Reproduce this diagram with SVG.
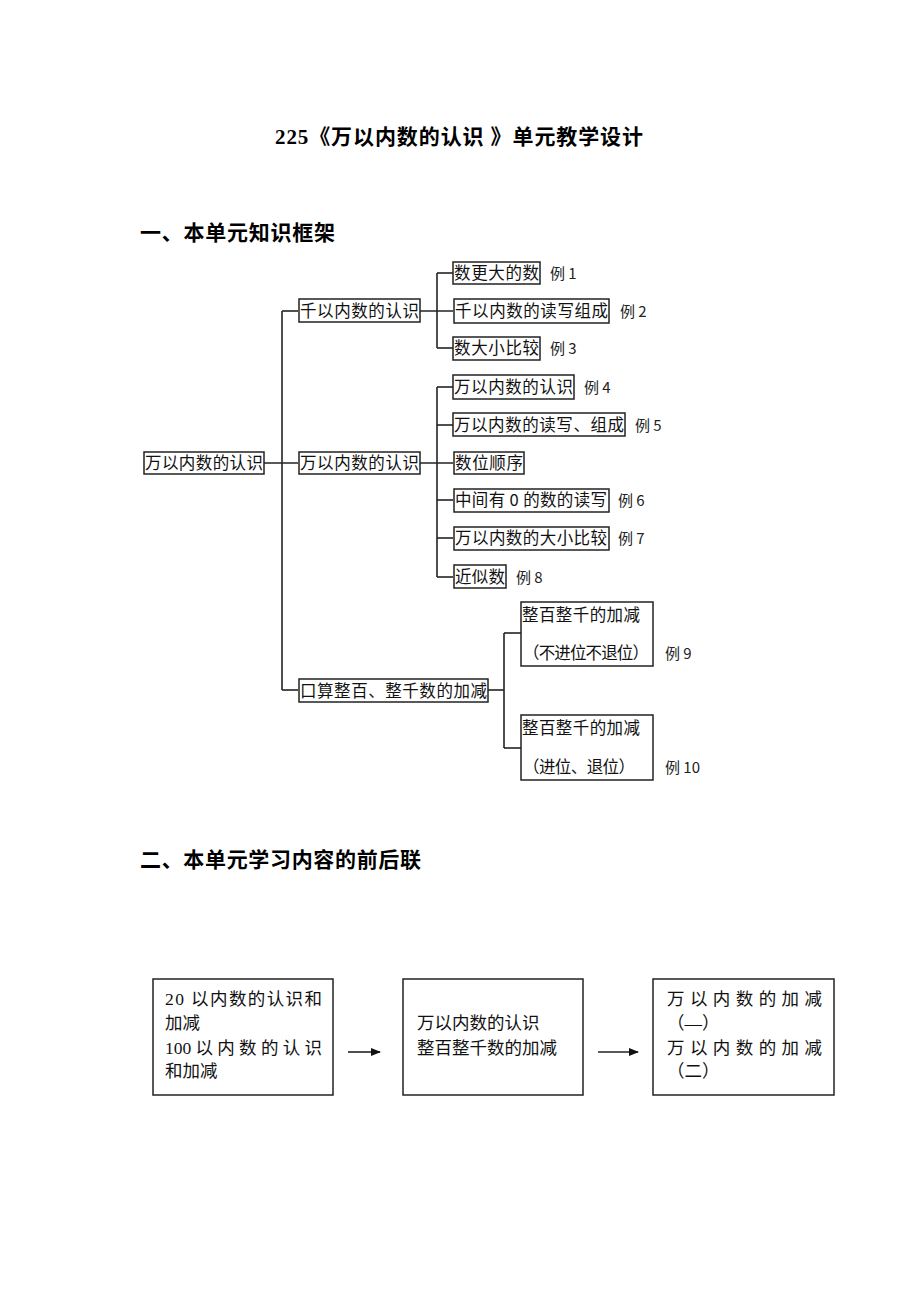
<svg xmlns="http://www.w3.org/2000/svg" width="920" height="1302" viewBox="0 0 920 1302">
<style>
.bg{fill:#fff}
.h{font-family:"Liberation Serif","Noto Sans CJK SC",serif;font-weight:bold;font-size:21px;fill:#000}
.t{font-family:"Noto Sans CJK SC",sans-serif;font-size:16.5px;fill:#111}
.e{font-family:"Noto Sans CJK SC",sans-serif;font-size:15px;fill:#222}
.s{font-family:"Liberation Serif","Noto Sans CJK SC",serif;font-size:17.5px;fill:#111}
.b{fill:#fff;stroke:#222;stroke-width:1.5}
.ln{fill:none;stroke:#222;stroke-width:1.6}
</style>
<defs>
<marker id="ar" markerWidth="10" markerHeight="10" refX="9" refY="5" orient="auto" markerUnits="userSpaceOnUse">
<path d="M0,1 L10,5 L0,9 Z" fill="#111"/>
</marker>
</defs>
<rect class="bg" x="0" y="0" width="920" height="1302"/>

<text class="h" x="275" y="144" textLength="368" lengthAdjust="spacing">225《万以内数的认识 》单元教学设计</text>
<text class="h" x="140" y="240" textLength="195" lengthAdjust="spacing">一、本单元知识框架</text>
<text class="h" x="140" y="867" textLength="281" lengthAdjust="spacing">二、本单元学习内容的前后联</text>

<g id="connectors">
<path class="ln" d="M264,463 H298"/>
<path class="ln" d="M282,311 V690"/>
<path class="ln" d="M282,311 H298"/>
<path class="ln" d="M282,690 H298"/>
<path class="ln" d="M420,311 H453"/>
<path class="ln" d="M437,273 V348"/>
<path class="ln" d="M437,273 H453"/>
<path class="ln" d="M437,348 H453"/>
<path class="ln" d="M420,463 H453"/>
<path class="ln" d="M437,387 V577"/>
<path class="ln" d="M437,387 H453"/>
<path class="ln" d="M437,425 H453"/>
<path class="ln" d="M437,500 H453"/>
<path class="ln" d="M437,538 H453"/>
<path class="ln" d="M437,577 H453"/>
<path class="ln" d="M488,690 H504"/>
<path class="ln" d="M504,633 V748"/>
<path class="ln" d="M504,633 H521"/>
<path class="ln" d="M504,748 H521"/>
<path class="ln" d="M348,1052 H380" marker-end="url(#ar)"/>
<path class="ln" d="M598,1052 H638" marker-end="url(#ar)"/>
</g>

<g id="root">
<rect class="b" x="144" y="452" width="120" height="22"/>
<text class="t" x="145" y="469" textLength="118" lengthAdjust="spacing">万以内数的认识</text>
</g>

<g id="n-qian">
<rect class="b" x="299" y="299" width="121" height="23"/>
<text class="t" x="300" y="317" textLength="119" lengthAdjust="spacing">千以内数的认识</text>
</g>
<g id="n-wan">
<rect class="b" x="299" y="452" width="121" height="22"/>
<text class="t" x="300" y="469" textLength="119" lengthAdjust="spacing">万以内数的认识</text>
</g>
<g id="n-kousuan">
<rect class="b" x="299" y="679" width="189" height="23"/>
<text class="t" x="300" y="697" textLength="187" lengthAdjust="spacing">口算整百、整千数的加减</text>
</g>

<g id="n1">
<rect class="b" x="453" y="262" width="87" height="22"/>
<text class="t" x="454" y="279" textLength="85" lengthAdjust="spacing">数更大的数</text>
<text class="e" x="550" y="279">例 1</text>
</g>
<g id="n2">
<rect class="b" x="454" y="299" width="155" height="24"/>
<text class="t" x="455" y="317" textLength="153" lengthAdjust="spacing">千以内数的读写组成</text>
<text class="e" x="620" y="317">例 2</text>
</g>
<g id="n3">
<rect class="b" x="453" y="337" width="87" height="23"/>
<text class="t" x="454" y="354" textLength="85" lengthAdjust="spacing">数大小比较</text>
<text class="e" x="550" y="354">例 3</text>
</g>
<g id="n4">
<rect class="b" x="453" y="375" width="121" height="24"/>
<text class="t" x="454" y="393" textLength="119" lengthAdjust="spacing">万以内数的认识</text>
<text class="e" x="584" y="393">例 4</text>
</g>
<g id="n5">
<rect class="b" x="453" y="413" width="172" height="23"/>
<text class="t" x="454" y="431" textLength="170" lengthAdjust="spacing">万以内数的读写、组成</text>
<text class="e" x="635" y="431">例 5</text>
</g>
<g id="n6">
<rect class="b" x="454" y="452" width="70" height="22"/>
<text class="t" x="455" y="469" textLength="68" lengthAdjust="spacing">数位顺序</text>
</g>
<g id="n7">
<rect class="b" x="454" y="489" width="155" height="23"/>
<text class="t" x="455" y="506" textLength="152" lengthAdjust="spacing">中间有 0 的数的读写</text>
<text class="e" x="618" y="506">例 6</text>
</g>
<g id="n8">
<rect class="b" x="454" y="527" width="155" height="23"/>
<text class="t" x="455" y="544" textLength="152" lengthAdjust="spacing">万以内数的大小比较</text>
<text class="e" x="618" y="544">例 7</text>
</g>
<g id="n9">
<rect class="b" x="454" y="565" width="52" height="23"/>
<text class="t" x="455" y="583" textLength="50" lengthAdjust="spacing">近似数</text>
<text class="e" x="516" y="583">例 8</text>
</g>
<g id="n10">
<rect class="b" x="521" y="602" width="132" height="64"/>
<text class="t" x="522" y="621" textLength="118" lengthAdjust="spacing">整百整千的加减</text>
<text class="t" x="523" y="659" textLength="126" lengthAdjust="spacing">（不进位不退位）</text>
<text class="e" x="665" y="659">例 9</text>
</g>
<g id="n11">
<rect class="b" x="521" y="715" width="132" height="65"/>
<text class="t" x="522" y="734" textLength="118" lengthAdjust="spacing">整百整千的加减</text>
<text class="t" x="523" y="773" textLength="112" lengthAdjust="spacing">（进位、退位）</text>
<text class="e" x="665" y="773">例 10</text>
</g>

<g id="b1">
<rect class="b" x="153" y="979" width="180" height="116"/>
<text class="s" x="165" y="1005" textLength="157" lengthAdjust="spacing">20 以内数的认识和</text>
<text class="s" x="165" y="1029">加减</text>
<text class="s" x="165" y="1054" textLength="157" lengthAdjust="spacing">100 以 内 数 的 认 识</text>
<text class="s" x="165" y="1077">和加减</text>
</g>
<g id="b2">
<rect class="b" x="403" y="979" width="180" height="116"/>
<text class="s" x="417" y="1029">万以内数的认识</text>
<text class="s" x="417" y="1054">整百整千数的加减</text>
</g>
<g id="b3">
<rect class="b" x="653" y="979" width="181" height="116"/>
<text class="s" x="667" y="1005" textLength="155" lengthAdjust="spacing">万 以 内 数 的 加 减</text>
<text class="s" x="667" y="1029">（—）</text>
<text class="s" x="667" y="1054" textLength="155" lengthAdjust="spacing">万 以 内 数 的 加 减</text>
<text class="s" x="667" y="1077">（二）</text>
</g>
</svg>
